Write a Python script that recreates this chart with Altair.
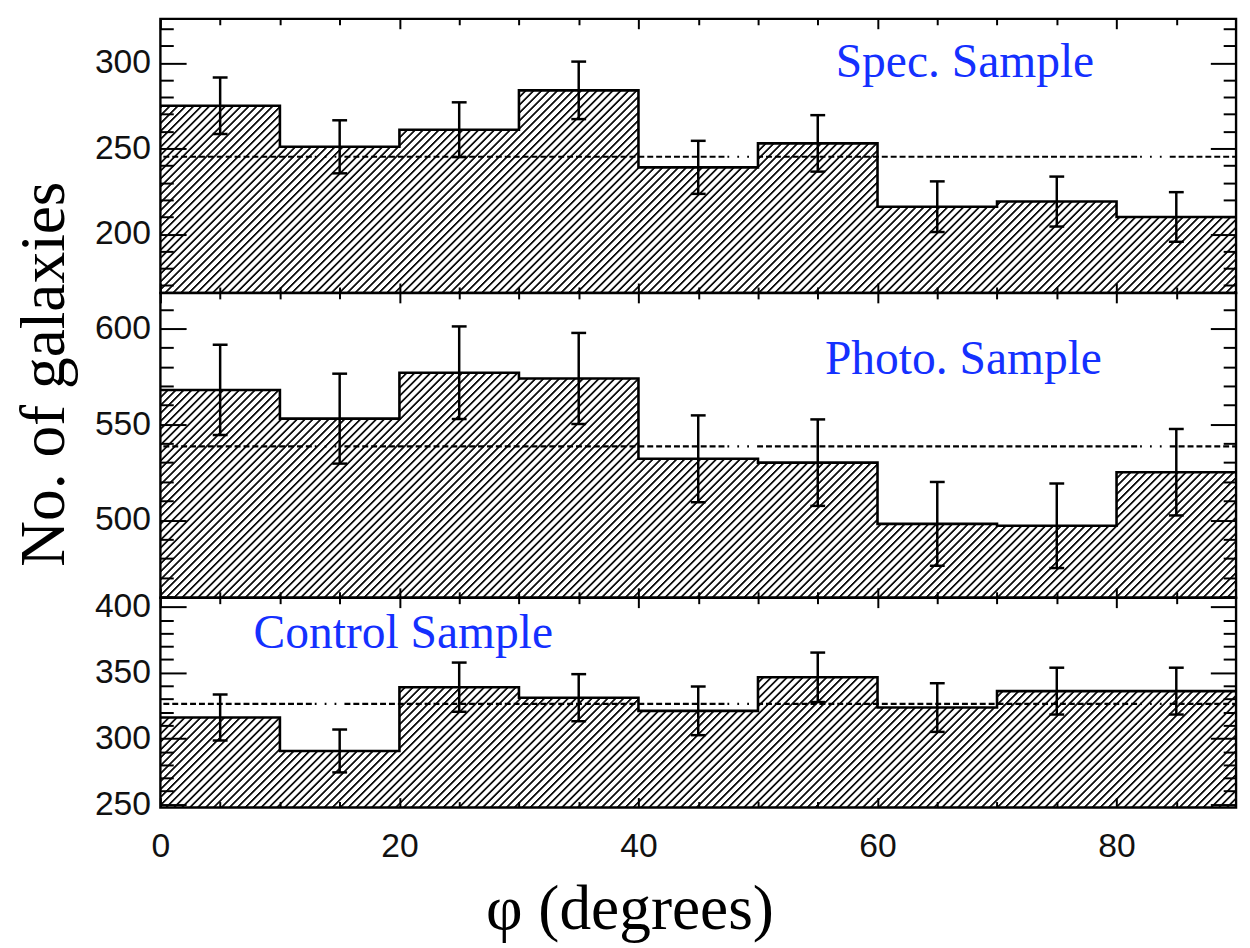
import altair as alt
import pandas as pd

# ---------------- data ----------------
bin_edges = [0, 10, 20, 30, 40, 50, 60, 70, 80, 90]
bin_centers = [5, 15, 25, 35, 45, 55, 65, 75, 85]

spec_counts = [275, 251, 261, 284, 239, 253, 216, 219, 210]
spec_errors = [16.5, 15.5, 16.0, 16.8, 15.5, 16.5, 14.8, 14.6, 14.5]
spec_mean = 245.2

photo_counts = [568, 553, 577, 574, 532, 530, 498, 497, 525]
photo_errors = [23.6, 23.5, 24.2, 23.8, 22.7, 22.6, 21.9, 22.1, 22.6]
photo_mean = 538.5

control_counts = [316, 290.5, 339, 331, 321, 346.5, 323.5, 336, 336]
control_errors = [17.5, 16.3, 18.7, 17.9, 18.5, 18.8, 18.5, 17.8, 17.8]
control_mean = 326.3

panel_labels = ["Spec. Sample", "Photo. Sample", "Control Sample"]
label_x = [56.5, 55.6, 7.8]
label_y = [291.7, 576.4, 369.0]

x_major = [0, 20, 40, 60, 80]
x_minor = [5, 10, 15, 25, 30, 35, 45, 50, 55, 65, 70, 75, 85]

spec_ydomain = [165.6, 325.8]
spec_ymajor = [200, 250, 300]
spec_yminor = [170, 180, 190, 210, 220, 230, 240, 260, 270, 280, 290, 310, 320]

photo_ydomain = [459.4, 618.7]
photo_ymajor = [500, 550, 600]
photo_yminor = [460, 470, 480, 490, 510, 520, 530, 540, 560, 570, 580, 590, 610]

control_ydomain = [247.5, 407.0]
control_ymajor = [250, 300, 350, 400]
control_yminor = [260, 270, 280, 290, 310, 320, 330, 340, 360, 370, 380, 390]

x_title = "φ (degrees)"
y_title = "No. of galaxies"

# ---------------- styling ----------------
W = 1087
HEIGHTS = [277, 308, 212]
LABEL_FONT = "Liberation Sans"
SERIF = "Liberation Serif"
BLUE = "#1430ff"
DASH = [6, 3] * 43 + [1.8, 8.2] * 3


def hatch(w, h, period=8.0):
    L = w + h
    k = L / (w * w + h * h)
    P = period / L
    stops = []
    base = 0.0
    last = -1.0
    while base < 1.0:
        for frac, col in [(0.0, "#ffffff"), (0.12, "#111111"), (0.31, "#111111"), (0.45, "#ffffff")]:
            off = round(base + frac * P, 6)
            if off <= 1.0 and off >= last:
                stops.append(alt.GradientStop(offset=off, color=col))
                last = off
        base += P
    return alt.LinearGradient(gradient="linear", stops=stops, x1=0, y1=0, x2=k * w, y2=k * h)


def tick_axis(orient, values, size, offset):
    return alt.Axis(orient=orient, values=values, tickSize=size, tickWidth=2, tickColor="black",
                    labels=False, domain=False, grid=False, title=None, offset=offset, zindex=3)


def panel(counts, errors, mean, ydom, ymaj, ymin, H, label, lx, ly, show_x, show_ytitle):
    xs = alt.Scale(domain=[0, 90], nice=False, zero=False)
    ys = alt.Scale(domain=ydom, nice=False, zero=False)
    one = alt.Data(values=[{"a": 1}])

    steps = pd.DataFrame({"x": bin_edges, "y": counts + [counts[-1]]})
    errdf = pd.DataFrame({
        "c": bin_centers,
        "lo": [c - e for c, e in zip(counts, errors)],
        "hi": [c + e for c, e in zip(counts, errors)],
    })
    capdf = pd.DataFrame({"c": bin_centers * 2, "y": list(errdf["lo"]) + list(errdf["hi"])})

    ykw = dict(orient="left", values=ymaj, ticks=False, tickSize=0, domain=False, grid=False,
               labelPadding=10, labelFont=LABEL_FONT, labelFontSize=34, labelColor="#111111",
               labelOverlap=False, labelFlush=False, labelBound=False, zindex=1)
    if show_ytitle:
        ykw.update(title=y_title, titleFont=SERIF, titleFontSize=64, titleFontWeight="normal",
                   titleColor="black", titleAngle=270, titleX=-117, titleY=81.5,
                   titleAlign="center", titleBaseline="middle")
    else:
        ykw.update(title=None)
    y_label_axis = alt.Axis(**ykw)

    if show_x:
        x_label_axis = alt.Axis(orient="bottom", values=x_major, ticks=False, tickSize=0, domain=False,
                                grid=False, labelPadding=22, labelFont=LABEL_FONT, labelFontSize=34,
                                labelColor="#111111", labelOverlap=False, labelFlush=False,
                                title=x_title, titleFont=SERIF, titleFontSize=64,
                                titleFontWeight="normal", titleColor="black", titleX=474, titleY=122,
                                titleAlign="center", titleBaseline="alphabetic", zindex=1)
    else:
        x_label_axis = None

    hatch_layer = alt.Chart(one).mark_rect(fill=hatch(W, H), strokeWidth=0).encode(
        x=alt.XDatum(0, type="quantitative", scale=xs, axis=x_label_axis),
        x2=alt.X2Datum(90),
        y=alt.YDatum(ydom[0], type="quantitative", scale=ys, axis=y_label_axis),
        y2=alt.Y2Datum(ydom[1]),
    )

    mask = alt.Chart(steps).mark_area(interpolate="step-after", color="white", opacity=1).encode(
        x=alt.X("x:Q", scale=xs, axis=tick_axis("top", x_major, 10, -H)),
        y=alt.Y("y:Q", scale=ys, axis=tick_axis("right", ymaj, 26, -W)),
        y2=alt.Y2Datum(ydom[1]),
    )

    line = alt.Chart(steps).mark_line(interpolate="step-after", color="black", strokeWidth=2.6).encode(
        x=alt.X("x:Q", scale=xs, axis=tick_axis("top", x_minor, 6, -H)),
        y=alt.Y("y:Q", scale=ys, axis=tick_axis("right", ymin, 13, -W)),
    )

    mean_rule = alt.Chart(one).mark_rule(color="black", strokeWidth=2.2, strokeDash=DASH,
                                         strokeDashOffset=231).encode(
        x=alt.XDatum(0, type="quantitative", scale=xs, axis=tick_axis("bottom", x_major, 10, -H)),
        x2=alt.X2Datum(90),
        y=alt.YDatum(mean, type="quantitative", scale=ys, axis=tick_axis("left", ymaj, 26, -W)),
    )

    err_rules = alt.Chart(errdf).mark_rule(color="black", strokeWidth=2.5).encode(
        x=alt.X("c:Q", scale=xs, axis=tick_axis("bottom", x_minor, 6, -H)),
        y=alt.Y("lo:Q", scale=ys, axis=tick_axis("left", ymin, 13, -W)),
        y2="hi:Q",
    )

    caps = alt.Chart(capdf).mark_tick(orient="horizontal", size=15, thickness=2.5, color="black",
                                      opacity=1).encode(
        x=alt.X("c:Q", scale=xs, axis=None),
        y=alt.Y("y:Q", scale=ys, axis=None),
    )

    text = alt.Chart(one).mark_text(text=label, align="left", baseline="alphabetic", font=SERIF,
                                    fontSize=48, color=BLUE).encode(
        x=alt.XDatum(lx, type="quantitative", scale=xs, axis=None),
        y=alt.YDatum(ly, type="quantitative", scale=ys, axis=None),
    )

    frame = alt.Chart(one).mark_rect(fillOpacity=0, stroke="black", strokeWidth=2.4).encode(
        x=alt.XDatum(0, type="quantitative", scale=xs, axis=None),
        x2=alt.X2Datum(90),
        y=alt.YDatum(ydom[0], type="quantitative", scale=ys, axis=None),
        y2=alt.Y2Datum(ydom[1]),
    )

    return alt.layer(hatch_layer, mask, mean_rule, line, err_rules, caps, text, frame).resolve_axis(
        x="independent", y="independent").properties(width=W, height=H)


p1 = panel(spec_counts, spec_errors, spec_mean, spec_ydomain, spec_ymajor, spec_yminor,
           HEIGHTS[0], panel_labels[0], label_x[0], label_y[0], False, False)
p2 = panel(photo_counts, photo_errors, photo_mean, photo_ydomain, photo_ymajor, photo_yminor,
           HEIGHTS[1], panel_labels[1], label_x[1], label_y[1], False, True)
p3 = panel(control_counts, control_errors, control_mean, control_ydomain, control_ymajor,
           control_yminor, HEIGHTS[2], panel_labels[2], label_x[2], label_y[2], True, False)

chart = alt.vconcat(p1, p2, p3, spacing=0, bounds="flush").properties(
    padding={"left": 4, "top": 4, "right": 0, "bottom": 0},
    background="white",
).configure_view(stroke=None)

chart.save("out.html", embed_options={"renderer": "svg", "actions": False})
